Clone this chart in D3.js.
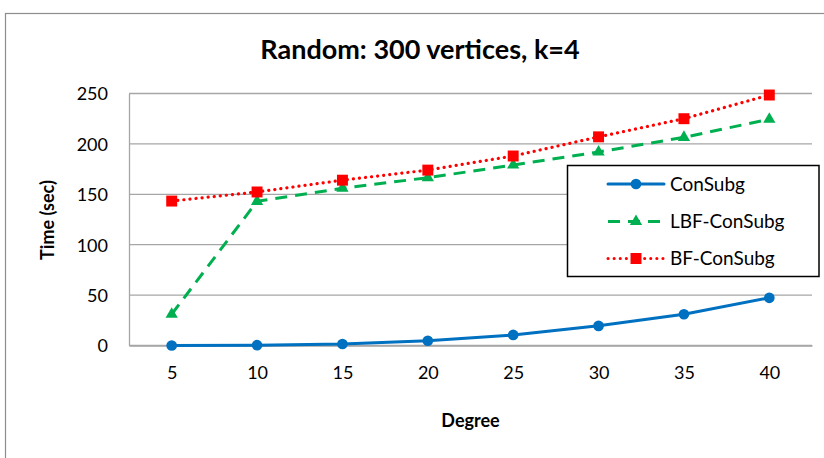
<!DOCTYPE html>
<html><head><meta charset="utf-8">
<script src="https://cdn.jsdelivr.net/npm/d3@7"></script>
<style>html,body{margin:0;padding:0;background:#fff}svg{display:block}text{font-family:Lato,"Open Sans",sans-serif;fill:#000}</style>
</head><body>
<script>
const categories = [5, 10, 15, 20, 25, 30, 35, 40];
const conSubg = [0, 0.3, 1.5, 4.7, 10.5, 19.5, 31, 47.3];
const lbfConSubg = [31, 143, 156, 166.5, 179, 192, 206.5, 224.5];
const bfConSubg = [143.3, 152.3, 164, 174, 188, 207, 225, 248.5];
const yTicks = [0, 50, 100, 150, 200, 250];
const seriesNames = ["ConSubg", "LBF-ConSubg", "BF-ConSubg"];
const titleText = "Random: 300 vertices, k=4";
const xTitle = "Degree";
const yTitle = "Time (sec)";

const W = 824, H = 458;
const svg = d3.select("body").append("svg").attr("width", W).attr("height", H);

// outer chart border
svg.append("rect").attr("x", 5.5).attr("y", 13.5).attr("width", 840).attr("height", 470)
  .attr("fill", "#fff").attr("stroke", "#8c8c8c").attr("stroke-width", 1.2);

const x = d3.scalePoint().domain(categories).range([129, 812]).padding(0.5);
const y = d3.scaleLinear().domain([0, 250]).range([345.5, 93.5]);

// gridlines
svg.append("g").selectAll("line").data(yTicks).join("line")
  .attr("x1", 129).attr("x2", 812).attr("y1", d => y(d)).attr("y2", d => y(d))
  .attr("stroke", "#a6a6a6").attr("stroke-width", 1.3);

// y axis
const yAxis = svg.append("g").attr("transform", "translate(129,0)")
  .call(d3.axisLeft(y).tickValues(yTicks).tickSize(0).tickPadding(21));
yAxis.select(".domain").attr("stroke", "#a6a6a6").attr("stroke-width", 1.3);
yAxis.selectAll("text").style("font-size", "18px").attr("dy", "0.36em");

// x axis
const xAxis = svg.append("g").attr("transform", "translate(0," + y(0) + ")")
  .call(d3.axisBottom(x).tickSize(0).tickPadding(27));
xAxis.select(".domain").attr("stroke", "#a6a6a6").attr("stroke-width", 1.3);
xAxis.selectAll("text").style("font-size", "18px").attr("dy", "0.36em");

// titles
svg.append("text").attr("x", 420).attr("y", 59).attr("text-anchor", "middle")
  .style("font-size", "27px").style("font-weight", "bold").text(titleText);
svg.append("text").attr("x", 470.5).attr("y", 427).attr("text-anchor", "middle")
  .style("font-size", "18px").style("font-weight", "bold").text(xTitle);
svg.append("text").attr("transform", "translate(54,220) rotate(-90)").attr("text-anchor", "middle")
  .style("font-size", "18px").style("font-weight", "bold").text(yTitle);

const styles = [
  {color: "#0070C0", dash: null, cap: "round", sym: d3.symbolCircle, size: 90},
  {color: "#00B050", dash: "12,8", cap: "butt", sym: d3.symbolTriangle, size: 65},
  {color: "#FF0000", dash: "0.1,6", cap: "round", sym: d3.symbolSquare, size: 120}
];
const allSeries = [conSubg, lbfConSubg, bfConSubg];
const line = d3.line().x((d, i) => x(categories[i])).y(d => y(d));

allSeries.forEach((vals, si) => {
  const s = styles[si];
  const g = svg.append("g");
  g.append("path").datum(vals).attr("d", line).attr("fill", "none")
    .attr("stroke", s.color).attr("stroke-width", si === 2 ? 3.2 : 3)
    .attr("stroke-dasharray", s.dash).attr("stroke-linecap", s.cap).attr("stroke-linejoin", "round");
  g.selectAll("path.m").data(vals).join("path").attr("class", "m")
    .attr("d", d3.symbol().type(s.sym).size(s.size))
    .attr("transform", (d, i) => "translate(" + x(categories[i]) + "," + y(d) + ")")
    .attr("fill", s.color);
});

// legend
const lg = svg.append("g");
lg.append("rect").attr("x", 567.5).attr("y", 165.5).attr("width", 251.5).attr("height", 111)
  .attr("fill", "#fff").attr("stroke", "#000").attr("stroke-width", 1.5);
const rowY = [184, 221.5, 258.5];
seriesNames.forEach((name, i) => {
  const s = styles[i];
  lg.append("line").attr("x1", 608).attr("x2", 664).attr("y1", rowY[i]).attr("y2", rowY[i])
    .attr("stroke", s.color).attr("stroke-width", 3).attr("stroke-dasharray", s.dash)
    .attr("stroke-linecap", s.cap);
  lg.append("path").attr("d", d3.symbol().type(s.sym).size(s.size))
    .attr("transform", "translate(636," + rowY[i] + ")").attr("fill", s.color);
  lg.append("text").attr("x", 670).attr("y", rowY[i]).attr("dy", "0.36em")
    .style("font-size", "19px").text(name);
});
</script>
</body></html>
